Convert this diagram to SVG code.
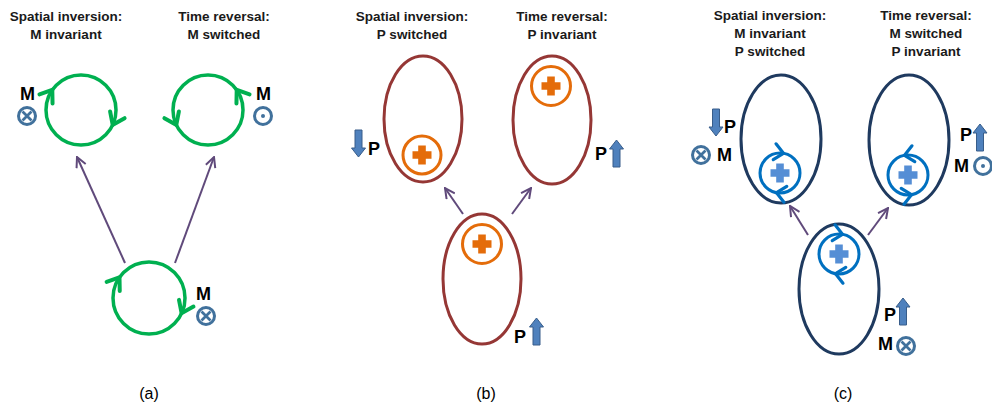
<svg xmlns="http://www.w3.org/2000/svg" xmlns:xlink="http://www.w3.org/1999/xlink" width="992" height="408" viewBox="0 0 992 408">
<style>
.title{font-family:"Liberation Sans",Arial,sans-serif;font-weight:bold;font-size:13.5px;fill:#1a1a1a;text-anchor:middle}
.lbl{font-family:"Liberation Sans",Arial,sans-serif;font-weight:bold;font-size:18px;fill:#000}
.cap{font-family:"Liberation Sans",Arial,sans-serif;font-size:16px;fill:#000;text-anchor:middle}
.loop{fill:none;stroke:#00B050;stroke-width:3.5}
.loopchev{fill:none;stroke:#00B050;stroke-width:4;stroke-linecap:round;stroke-linejoin:miter}
.brown{fill:none;stroke:#953735;stroke-width:3}
.navy{fill:none;stroke:#1F3A5F;stroke-width:3}
.orc{fill:none;stroke:#E46C0A;stroke-width:3}
.orp{fill:#E46C0A}
.blc{fill:none;stroke:#0070C0;stroke-width:3}
.blchev{fill:none;stroke:#0070C0;stroke-width:3.2;stroke-linecap:round}
.blp{fill:#558ED5}
.conn{stroke:#604A7B;stroke-width:2;fill:none}
.barrow{fill:#4F81BD;stroke:#385D8A;stroke-width:1}
.sym{fill:#fff;stroke:#41719C;stroke-width:3}
.symx{stroke:#41719C;stroke-width:2.8}
</style>
<defs>
<marker id="ah" viewBox="0 0 12 12" refX="11" refY="6" markerWidth="12" markerHeight="12" markerUnits="userSpaceOnUse" orient="auto">
<path d="M1,1 L11,6 L1,11" fill="none" stroke="#604A7B" stroke-width="2"/>
</marker>
<path id="chev" d="M-11,-8 L0,0 L-11,8"/>
<path id="chev2" d="M-9,-8 L0,0 L-9,8"/>
<path id="plus" d="M-3.8,-9.5 h7.6 v5.7 h5.7 v7.6 h-5.7 v5.7 h-7.6 v-5.7 h-5.7 v-7.6 h5.7 Z"/>
<path id="up" d="M0,0 L7,9 L3.5,9 L3.5,27 L-3.5,27 L-3.5,9 L-7,9 Z"/>
<path id="down" d="M0,27 L7,18 L3.5,18 L3.5,0 L-3.5,0 L-3.5,18 L-7,18 Z"/>
<g id="otimes"><circle r="8.5" class="sym"/><path d="M-4.5,-4.5 L4.5,4.5 M-4.5,4.5 L4.5,-4.5" class="symx"/></g>
<g id="odot"><circle r="8.5" class="sym"/><circle r="2" fill="#41719C"/></g>
</defs>

<!-- Connectors -->
<g id="connectors">
<line class="conn" x1="125" y1="263" x2="77" y2="157" marker-end="url(#ah)"/>
<line class="conn" x1="175" y1="263" x2="214" y2="157" marker-end="url(#ah)"/>
<line class="conn" x1="463" y1="214" x2="445" y2="188" marker-end="url(#ah)"/>
<line class="conn" x1="512" y1="214" x2="531" y2="188" marker-end="url(#ah)"/>
<line class="conn" x1="808" y1="235" x2="790" y2="206" marker-end="url(#ah)"/>
<line class="conn" x1="868" y1="235" x2="888" y2="208" marker-end="url(#ah)"/>
</g>

<!-- Panel (a) -->
<g id="a-titles">
<text class="title" x="66" y="21">Spatial inversion:</text>
<text class="title" x="66" y="39">M invariant</text>
<text class="title" x="224" y="21">Time reversal:</text>
<text class="title" x="224" y="39">M switched</text>
</g>
<g id="a-left">
<circle class="loop" cx="81" cy="110" r="35"/>
<use href="#chev" class="loopchev" transform="translate(52.3,89.9) rotate(305)"/>
<use href="#chev" class="loopchev" transform="translate(112.7,124.8) rotate(115)"/>
<text class="lbl" x="20" y="100">M</text>
<use href="#otimes" transform="translate(27,116)"/>
</g>
<g id="a-right">
<circle class="loop" cx="208" cy="110" r="35"/>
<use href="#chev" class="loopchev" transform="translate(236.7,89.9) rotate(235)"/>
<use href="#chev" class="loopchev" transform="translate(176.3,124.8) rotate(65)"/>
<text class="lbl" x="256" y="100">M</text>
<use href="#odot" transform="translate(263,116)"/>
</g>
<g id="a-bottom">
<circle class="loop" cx="149" cy="298" r="36"/>
<use href="#chev" class="loopchev" transform="translate(119.5,277.4) rotate(305)"/>
<use href="#chev" class="loopchev" transform="translate(181.6,313.2) rotate(115)"/>
<text class="lbl" x="196" y="300">M</text>
<use href="#otimes" transform="translate(206,316)"/>
</g>
<text class="cap" x="149" y="399">(a)</text>

<!-- Panel (b) -->
<g id="b-titles">
<text class="title" x="412" y="21">Spatial inversion:</text>
<text class="title" x="412" y="39">P switched</text>
<text class="title" x="562" y="21">Time reversal:</text>
<text class="title" x="562" y="39">P invariant</text>
</g>
<g id="b-left">
<ellipse class="brown" cx="423" cy="119" rx="39" ry="63"/>
<circle class="orc" cx="422" cy="155" r="19"/>
<use href="#plus" class="orp" transform="translate(422,155)"/>
<use href="#down" class="barrow" transform="translate(358.5,130)"/>
<text class="lbl" x="368" y="155">P</text>
</g>
<g id="b-right">
<ellipse class="brown" cx="552" cy="120" rx="39" ry="64"/>
<circle class="orc" cx="551" cy="86" r="19.5"/>
<use href="#plus" class="orp" transform="translate(551,86)"/>
<text class="lbl" x="595" y="160">P</text>
<use href="#up" class="barrow" transform="translate(616.5,140)"/>
</g>
<g id="b-bottom">
<ellipse class="brown" cx="482" cy="279" rx="39" ry="65"/>
<circle class="orc" cx="482" cy="244" r="19.5"/>
<use href="#plus" class="orp" transform="translate(482,244)"/>
<text class="lbl" x="514" y="343">P</text>
<use href="#up" class="barrow" transform="translate(536.5,318)"/>
</g>
<text class="cap" x="486" y="399">(b)</text>

<!-- Panel (c) -->
<g id="c-titles">
<text class="title" x="770" y="20">Spatial inversion:</text>
<text class="title" x="770" y="38">M invariant</text>
<text class="title" x="770" y="56">P switched</text>
<text class="title" x="926" y="20">Time reversal:</text>
<text class="title" x="926" y="38">M switched</text>
<text class="title" x="926" y="56">P invariant</text>
</g>
<g id="c-left">
<ellipse class="navy" cx="781" cy="139" rx="40" ry="64"/>
<circle class="blc" cx="780" cy="173" r="20"/>
<use href="#plus" class="blp" transform="translate(780,173)"/>
<use href="#chev2" class="blchev" transform="translate(783.5,153.3) rotate(10)"/>
<use href="#chev2" class="blchev" transform="translate(776.5,192.7) rotate(190)"/>
<use href="#down" class="barrow" transform="translate(716,109)"/>
<text class="lbl" x="724" y="133">P</text>
<use href="#otimes" transform="translate(701,155)"/>
<text class="lbl" x="717" y="161">M</text>
</g>
<g id="c-right">
<ellipse class="navy" cx="909" cy="140" rx="40" ry="65"/>
<circle class="blc" cx="908" cy="175" r="20"/>
<use href="#plus" class="blp" transform="translate(908,175)"/>
<use href="#chev2" class="blchev" transform="translate(904.5,155.3) rotate(170)"/>
<use href="#chev2" class="blchev" transform="translate(911.5,194.7) rotate(-10)"/>
<text class="lbl" x="960" y="141">P</text>
<use href="#up" class="barrow" transform="translate(980,124)"/>
<text class="lbl" x="954" y="172">M</text>
<use href="#odot" transform="translate(983,166)"/>
</g>
<g id="c-bottom">
<ellipse class="navy" cx="839" cy="289" rx="40" ry="65"/>
<circle class="blc" cx="839" cy="254" r="20"/>
<use href="#plus" class="blp" transform="translate(839,254)"/>
<use href="#chev2" class="blchev" transform="translate(842.5,234.3) rotate(10)"/>
<use href="#chev2" class="blchev" transform="translate(835.5,273.7) rotate(190)"/>
<text class="lbl" x="884" y="321">P</text>
<use href="#up" class="barrow" transform="translate(903,298)"/>
<text class="lbl" x="878" y="350">M</text>
<use href="#otimes" transform="translate(906,346)"/>
</g>
<text class="cap" x="843" y="399">(c)</text>
</svg>
